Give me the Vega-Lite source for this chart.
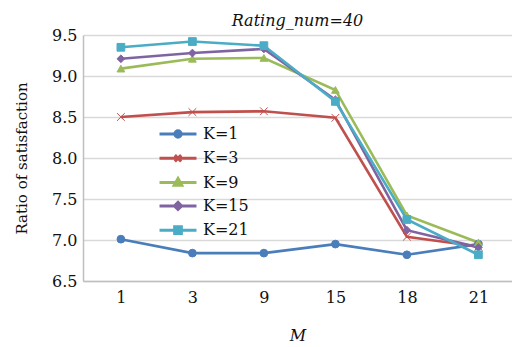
{
  "$schema": "https://vega.github.io/schema/vega-lite/v6.json",
  "autosize": "none",
  "width": 429,
  "height": 246,
  "padding": {"left": 83, "top": 35, "right": 0, "bottom": 66},
  "background": "white",
  "title": {"text": "Rating_num=40", "font": "DejaVu Serif", "fontSize": 16, "fontStyle": "italic", "fontWeight": "normal", "color": "#111", "anchor": "middle", "baseline": "alphabetic", "offset": -15},
  "data": {"values": [
    {"M": 1, "K": "K=1", "v": 7.01}, {"M": 3, "K": "K=1", "v": 6.84}, {"M": 9, "K": "K=1", "v": 6.84}, {"M": 15, "K": "K=1", "v": 6.95}, {"M": 18, "K": "K=1", "v": 6.82}, {"M": 21, "K": "K=1", "v": 6.95},
    {"M": 1, "K": "K=3", "v": 8.50}, {"M": 3, "K": "K=3", "v": 8.56}, {"M": 9, "K": "K=3", "v": 8.57}, {"M": 15, "K": "K=3", "v": 8.49}, {"M": 18, "K": "K=3", "v": 7.04}, {"M": 21, "K": "K=3", "v": 6.92},
    {"M": 1, "K": "K=9", "v": 9.09}, {"M": 3, "K": "K=9", "v": 9.21}, {"M": 9, "K": "K=9", "v": 9.22}, {"M": 15, "K": "K=9", "v": 8.83}, {"M": 18, "K": "K=9", "v": 7.30}, {"M": 21, "K": "K=9", "v": 6.97},
    {"M": 1, "K": "K=15", "v": 9.21}, {"M": 3, "K": "K=15", "v": 9.28}, {"M": 9, "K": "K=15", "v": 9.33}, {"M": 15, "K": "K=15", "v": 8.71}, {"M": 18, "K": "K=15", "v": 7.12}, {"M": 21, "K": "K=15", "v": 6.91},
    {"M": 1, "K": "K=21", "v": 9.35}, {"M": 3, "K": "K=21", "v": 9.42}, {"M": 9, "K": "K=21", "v": 9.37}, {"M": 15, "K": "K=21", "v": 8.69}, {"M": 18, "K": "K=21", "v": 7.25}, {"M": 21, "K": "K=21", "v": 6.82}
  ]},
  "encoding": {
    "x": {"field": "M", "type": "ordinal", "scale": {"type": "point", "padding": 0.5, "align": 0.53},
      "axis": {"title": "M", "titleFontStyle": "italic", "labelAngle": 0, "ticks": false, "grid": false, "labelPadding": 8, "titlePadding": 22}},
    "y": {"field": "v", "type": "quantitative", "scale": {"domain": [6.5, 9.5], "nice": false, "zero": false},
      "axis": {"title": "Ratio of satisfaction", "titleFontSize": 15, "values": [6.5, 7.0, 7.5, 8.0, 8.5, 9.0, 9.5], "format": ".1f", "ticks": false, "grid": true, "labelPadding": 6, "titlePadding": 22}},
    "color": {"field": "K", "type": "nominal", "scale": {"domain": ["K=1", "K=3", "K=9", "K=15", "K=21"], "range": ["#4a7ebb", "#c0504d", "#9bbb59", "#8064a2", "#4bacc6"]}, "legend": null}
  },
  "layer": [
    {"mark": {"type": "line", "strokeWidth": 2.6}},
    {"mark": {"type": "point", "filled": true, "opacity": 1, "size": 60, "strokeWidth": 1},
      "encoding": {
        "shape": {"field": "K", "type": "nominal", "scale": {"domain": ["K=1", "K=3", "K=9", "K=15", "K=21"], "range": ["circle", "M-1,-1L1,1M-1,1L1,-1", "triangle-up", "diamond", "square"]}, "legend": null},
        "stroke": {"field": "K", "type": "nominal", "scale": {"domain": ["K=1", "K=3", "K=9", "K=15", "K=21"], "range": ["#4a7ebb", "#c0504d", "#9bbb59", "#8064a2", "#4bacc6"]}, "legend": null}
      }},
    {"mark": {"type": "point", "filled": true, "opacity": 0},
      "encoding": {
        "color": {"field": "K", "type": "nominal", "scale": {"domain": ["K=1", "K=3", "K=9", "K=15", "K=21"], "range": ["#4a7ebb", "#c0504d", "#9bbb59", "#8064a2", "#4bacc6"]},
          "legend": {"title": null, "orient": "none", "legendX": 83, "legendY": 87, "padding": 0, "symbolSize": 441, "symbolOpacity": 1, "symbolStrokeWidth": 3, "symbolFillColor": "transparent", "symbolStrokeColor": "transparent", "labelOffset": 13, "rowPadding": 2.3, "labelFont": "DejaVu Serif", "labelFontSize": 16, "labelColor": "#111", "labelBaseline": "middle"}},
        "stroke": {"field": "K", "type": "nominal", "scale": {"domain": ["K=1", "K=3", "K=9", "K=15", "K=21"], "range": ["#4a7ebb", "#c0504d", "#9bbb59", "#8064a2", "#4bacc6"]},
          "legend": {"title": null, "orient": "none", "legendX": 83, "legendY": 87, "padding": 0, "symbolSize": 441, "symbolOpacity": 1, "symbolStrokeWidth": 3, "symbolFillColor": "transparent", "symbolStrokeColor": "transparent", "labelOffset": 13, "rowPadding": 2.3, "labelFont": "DejaVu Serif", "labelFontSize": 16, "labelColor": "#111", "labelBaseline": "middle"}},
        "shape": {"field": "K", "type": "nominal", "scale": {"domain": ["K=1", "K=3", "K=9", "K=15", "K=21"], "range": [
          "M-1.76,0L1.76,0M-0.3,0A0.3,0.3,0,1,0,0.3,0A0.3,0.3,0,1,0,-0.3,0Z",
          "M-1.76,0L1.76,0M-0.3,-0.3L0.3,0.3M-0.3,0.3L0.3,-0.3",
          "M-1.76,0L1.76,0M0,-0.38L0.36,0.26L-0.36,0.26Z",
          "M-1.76,0L1.76,0M0,-0.34L0.34,0L0,0.34L-0.34,0Z",
          "M-1.76,0L1.76,0M-0.32,-0.32L0.32,-0.32L0.32,0.32L-0.32,0.32Z"]},
          "legend": {"title": null, "orient": "none", "legendX": 83, "legendY": 87, "padding": 0, "symbolSize": 441, "symbolOpacity": 1, "symbolStrokeWidth": 3, "symbolFillColor": "transparent", "symbolStrokeColor": "transparent", "labelOffset": 13, "rowPadding": 2.3, "labelFont": "DejaVu Serif", "labelFontSize": 16, "labelColor": "#111", "labelBaseline": "middle"}}
      }}
  ],
  "resolve": {"scale": {"shape": "independent", "color": "independent", "stroke": "independent"}, "legend": {"shape": "independent", "color": "independent", "stroke": "independent"}},
  "config": {
    "view": {"stroke": null},
    "font": "DejaVu Serif",
    "axis": {"labelFont": "DejaVu Serif", "titleFont": "DejaVu Serif", "labelFontSize": 16, "labelColor": "#111", "titleFontSize": 16, "titleFontWeight": "normal", "titleColor": "#111", "domainColor": "#bfbfbf", "domainWidth": 1.5, "gridColor": "#d9d9d9", "gridWidth": 1.5}
  }
}
